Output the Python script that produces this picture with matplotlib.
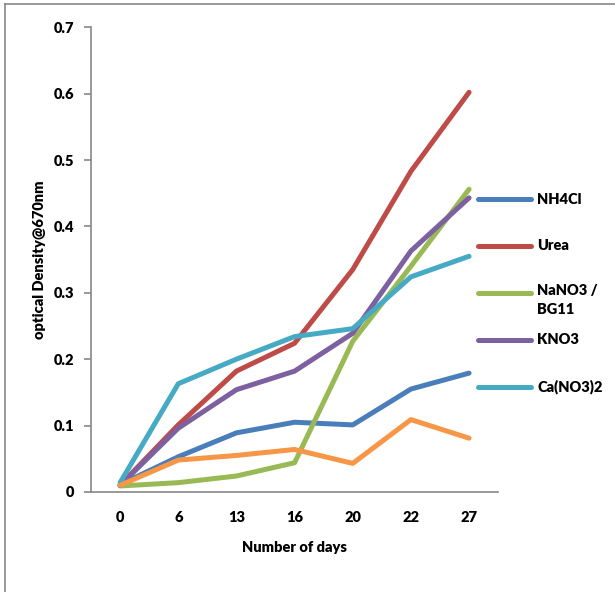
import matplotlib.pyplot as plt
import numpy as np
from matplotlib.lines import Line2D

plt.rcParams['font.family'] = ['Lato', 'DejaVu Sans']

days = ["0", "6", "13", "16", "20", "22", "27"]

nh4cl = [0.011, 0.053, 0.089, 0.105, 0.101, 0.155, 0.179]
urea = [0.010, 0.101, 0.182, 0.224, 0.335, 0.483, 0.602]
nano3 = [0.009, 0.014, 0.024, 0.044, 0.227, 0.340, 0.456]
kno3 = [0.010, 0.096, 0.154, 0.182, 0.239, 0.363, 0.443]
cano3 = [0.014, 0.163, 0.200, 0.234, 0.246, 0.324, 0.355]
other = [0.010, 0.048, 0.055, 0.064, 0.043, 0.109, 0.081]

names = ["NH4Cl", "Urea", "NaNO3 /\nBG11", "KNO3", "Ca(NO3)2"]
colors = ["#4A7EBB", "#BE4B48", "#98B954", "#7D60A0", "#46AAC5"]
series = [nh4cl, urea, nano3, kno3, cano3]

fig = plt.figure(figsize=(6.15, 5.92), dpi=100)
ax = fig.add_axes([0.148, 0.169, 0.662, 0.785])

x = np.arange(len(days))
lw = 3.6
for vals, c in zip(series, colors):
    ax.plot(x, vals, color=c, lw=lw, solid_capstyle='round', solid_joinstyle='round')
ax.plot(x, other, color="#F79646", lw=lw, solid_capstyle='round', solid_joinstyle='round')

ax.set_xlim(-0.5, len(days) - 0.5)
ax.set_ylim(0, 0.7)
ax.set_xticks(x)
ax.set_xticklabels(days)
ax.set_yticks(np.arange(0, 0.71, 0.1))
ax.set_yticklabels(["0", "0.1", "0.2", "0.3", "0.4", "0.5", "0.6", "0.7"])

for s in ["top", "right"]:
    ax.spines[s].set_visible(False)
for s in ["left", "bottom"]:
    ax.spines[s].set_color("#888888")
    ax.spines[s].set_linewidth(1.2)
ax.tick_params(axis='y', length=5, color="#888888", width=1.2, labelsize=10.5, pad=7)
ax.tick_params(axis='x', length=0, labelsize=10.5, pad=14)
for t in ax.get_xticklabels() + ax.get_yticklabels():
    t.set_fontweight('heavy')

ax.set_xlabel("Number of days", fontsize=10.5, fontweight='heavy', labelpad=12)
ax.set_ylabel("optical Density@670nm", fontsize=10.5, fontweight='heavy', labelpad=6)

# legend drawn by hand so the two-line label keeps its line at the first row
leg_y = [199, 246, 293, 340, 387]
for name, c, yp in zip(names, colors, leg_y):
    fy = 1 - yp / 592
    fig.add_artist(Line2D([478 / 615, 531 / 615], [fy, fy], color=c, lw=lw,
                          solid_capstyle='round'))
    fig.text(537 / 615, fy, name, fontsize=10.5, fontweight='heavy',
             va='top' if "\n" in name else 'center', linespacing=1.5,
             transform=fig.transFigure)
    if "\n" in name:
        fig.texts[-1].set_y(fy + 9 / 592)

# chart frame (only top and left edges visible in the crop)
fig.add_artist(Line2D([5 / 615, 1], [1 - 4 / 592, 1 - 4 / 592], color="#888888", lw=1.2))
fig.add_artist(Line2D([5 / 615, 5 / 615], [0, 1 - 4 / 592], color="#888888", lw=1.2))

fig.savefig("out.png", dpi=100)
